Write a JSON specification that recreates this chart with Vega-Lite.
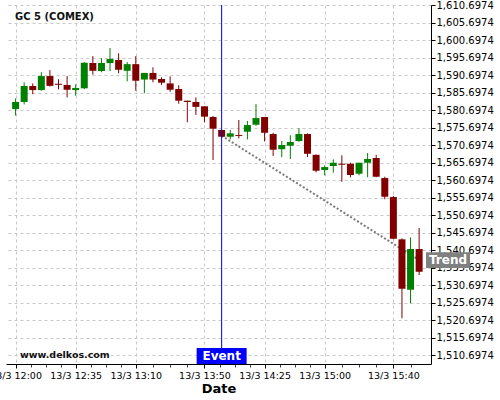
{
  "$schema": "https://vega.github.io/schema/vega-lite/v6.json",
  "width": 425,
  "height": 359,
  "autosize": {"type": "none"},
  "padding": {"left": 6, "top": 5, "right": 69, "bottom": 36},
  "background": "white",
  "config": {
    "view": {"stroke": null},
    "axis": {
      "labelFont": "DejaVu Sans",
      "labelFontSize": 9.5,
      "labelColor": "#000000",
      "domainColor": "#000000",
      "tickColor": "#000000",
      "gridColor": "#c8c8c8",
      "gridDash": [3, 3],
      "gridWidth": 1,
      "tickSize": 4,
      "titleFont": "DejaVu Sans",
      "titleColor": "#000000"
    }
  },
  "datasets": {
    "candles": [
      {"t": "2024-03-13T12:00:00", "open": 1581.0, "high": 1584.0, "low": 1579.1, "close": 1583.0},
      {"t": "2024-03-13T12:05:00", "open": 1583.0, "high": 1588.6, "low": 1582.3, "close": 1587.56},
      {"t": "2024-03-13T12:10:00", "open": 1587.56, "high": 1588.3, "low": 1585.2, "close": 1586.4},
      {"t": "2024-03-13T12:15:00", "open": 1586.4, "high": 1591.5, "low": 1586.2, "close": 1590.4},
      {"t": "2024-03-13T12:20:00", "open": 1590.4, "high": 1592.1, "low": 1587.4, "close": 1587.6},
      {"t": "2024-03-13T12:25:00", "open": 1588.2, "high": 1589.5, "low": 1586.6, "close": 1587.9},
      {"t": "2024-03-13T12:30:00", "open": 1587.84, "high": 1590.4, "low": 1584.3, "close": 1586.5},
      {"t": "2024-03-13T12:35:00", "open": 1586.4, "high": 1588.04, "low": 1584.8, "close": 1587.0},
      {"t": "2024-03-13T12:40:00", "open": 1586.9, "high": 1594.4, "low": 1586.7, "close": 1594.2},
      {"t": "2024-03-13T12:45:00", "open": 1594.13, "high": 1596.1, "low": 1590.8, "close": 1591.9},
      {"t": "2024-03-13T12:50:00", "open": 1591.84, "high": 1595.5, "low": 1591.5, "close": 1594.13},
      {"t": "2024-03-13T12:55:00", "open": 1594.1, "high": 1598.4, "low": 1591.8, "close": 1595.3},
      {"t": "2024-03-13T13:00:00", "open": 1595.0, "high": 1596.9, "low": 1591.2, "close": 1592.2},
      {"t": "2024-03-13T13:05:00", "open": 1591.9, "high": 1594.4, "low": 1588.9, "close": 1593.8},
      {"t": "2024-03-13T13:10:00", "open": 1593.8, "high": 1596.1, "low": 1586.2, "close": 1589.07},
      {"t": "2024-03-13T13:15:00", "open": 1589.4, "high": 1591.3, "low": 1585.5, "close": 1591.3},
      {"t": "2024-03-13T13:20:00", "open": 1591.3, "high": 1592.9, "low": 1588.6, "close": 1589.4},
      {"t": "2024-03-13T13:25:00", "open": 1589.56, "high": 1590.04, "low": 1587.84, "close": 1588.5},
      {"t": "2024-03-13T13:30:00", "open": 1588.3, "high": 1590.3, "low": 1585.9, "close": 1586.5},
      {"t": "2024-03-13T13:35:00", "open": 1586.7, "high": 1587.8, "low": 1582.5, "close": 1583.36},
      {"t": "2024-03-13T13:40:00", "open": 1583.36, "high": 1583.4, "low": 1577.2, "close": 1583.0},
      {"t": "2024-03-13T13:45:00", "open": 1583.0, "high": 1584.3, "low": 1579.3, "close": 1581.6},
      {"t": "2024-03-13T13:50:00", "open": 1581.76, "high": 1581.8, "low": 1577.2, "close": 1578.8},
      {"t": "2024-03-13T13:55:00", "open": 1578.7, "high": 1579.0, "low": 1566.4, "close": 1575.36},
      {"t": "2024-03-13T14:00:00", "open": 1575.0, "high": 1575.0, "low": 1573.0, "close": 1573.07},
      {"t": "2024-03-13T14:05:00", "open": 1573.07, "high": 1575.0, "low": 1572.3, "close": 1574.04},
      {"t": "2024-03-13T14:10:00", "open": 1573.56, "high": 1577.84, "low": 1572.6, "close": 1573.3},
      {"t": "2024-03-13T14:15:00", "open": 1574.5, "high": 1577.56, "low": 1572.3, "close": 1576.4},
      {"t": "2024-03-13T14:20:00", "open": 1576.5, "high": 1582.4, "low": 1576.2, "close": 1578.4},
      {"t": "2024-03-13T14:25:00", "open": 1578.7, "high": 1578.7, "low": 1571.75, "close": 1574.2},
      {"t": "2024-03-13T14:30:00", "open": 1573.84, "high": 1574.2, "low": 1567.6, "close": 1569.36},
      {"t": "2024-03-13T14:35:00", "open": 1569.5, "high": 1571.84, "low": 1567.2, "close": 1570.7},
      {"t": "2024-03-13T14:40:00", "open": 1570.5, "high": 1573.5, "low": 1566.7, "close": 1571.56},
      {"t": "2024-03-13T14:45:00", "open": 1571.84, "high": 1575.5, "low": 1571.6, "close": 1573.84},
      {"t": "2024-03-13T14:50:00", "open": 1573.84, "high": 1574.04, "low": 1567.3, "close": 1568.2},
      {"t": "2024-03-13T14:55:00", "open": 1567.9, "high": 1568.0, "low": 1562.9, "close": 1563.36},
      {"t": "2024-03-13T15:00:00", "open": 1563.56, "high": 1564.9, "low": 1562.04, "close": 1564.4},
      {"t": "2024-03-13T15:05:00", "open": 1564.7, "high": 1566.6, "low": 1562.8, "close": 1565.64},
      {"t": "2024-03-13T15:10:00", "open": 1565.36, "high": 1567.76, "low": 1560.2, "close": 1565.07},
      {"t": "2024-03-13T15:15:00", "open": 1565.36, "high": 1565.64, "low": 1561.47, "close": 1562.13},
      {"t": "2024-03-13T15:20:00", "open": 1562.5, "high": 1565.64, "low": 1562.04, "close": 1565.64},
      {"t": "2024-03-13T15:25:00", "open": 1565.64, "high": 1568.4, "low": 1561.5, "close": 1566.7},
      {"t": "2024-03-13T15:30:00", "open": 1566.99, "high": 1567.9, "low": 1561.5, "close": 1561.64},
      {"t": "2024-03-13T15:35:00", "open": 1561.27, "high": 1561.64, "low": 1555.2, "close": 1555.93},
      {"t": "2024-03-13T15:40:00", "open": 1555.84, "high": 1556.13, "low": 1543.76, "close": 1543.93},
      {"t": "2024-03-13T15:45:00", "open": 1543.76, "high": 1544.04, "low": 1521.2, "close": 1529.64},
      {"t": "2024-03-13T15:50:00", "open": 1529.36, "high": 1544.3, "low": 1525.47, "close": 1540.99},
      {"t": "2024-03-13T15:55:00", "open": 1540.99, "high": 1547.0, "low": 1533.56, "close": 1534.5}
    ],
    "trend": [
      {"t": "2024-03-13T14:00:00", "price": 1573.35},
      {"t": "2024-03-13T15:55:00", "price": 1537.85}
    ],
    "events": [
      {"t": "2024-03-13T14:00:00", "label": "Event"}
    ]
  },
  "layer": [
    {
      "data": {"name": "candles"},
      "mark": {"type": "rule", "opacity": 0},
      "encoding": {
        "x": {
          "field": "t", "type": "temporal",
          "scale": {"domain": [{"year": 2024, "month": 3, "date": 13, "hours": 11, "minutes": 57, "seconds": 20}, {"year": 2024, "month": 3, "date": 13, "hours": 15, "minutes": 59}]},
          "axis": {
            "orient": "bottom",
            "values": [
              {"year": 2024, "month": 3, "date": 13, "hours": 12, "minutes": 8, "seconds": 45},
              {"year": 2024, "month": 3, "date": 13, "hours": 12, "minutes": 17, "seconds": 30},
              {"year": 2024, "month": 3, "date": 13, "hours": 12, "minutes": 26, "seconds": 15},
              {"year": 2024, "month": 3, "date": 13, "hours": 12, "minutes": 43, "seconds": 45},
              {"year": 2024, "month": 3, "date": 13, "hours": 12, "minutes": 52, "seconds": 30},
              {"year": 2024, "month": 3, "date": 13, "hours": 13, "minutes": 1, "seconds": 15},
              {"year": 2024, "month": 3, "date": 13, "hours": 13, "minutes": 20},
              {"year": 2024, "month": 3, "date": 13, "hours": 13, "minutes": 30},
              {"year": 2024, "month": 3, "date": 13, "hours": 13, "minutes": 40},
              {"year": 2024, "month": 3, "date": 13, "hours": 13, "minutes": 58, "seconds": 45},
              {"year": 2024, "month": 3, "date": 13, "hours": 14, "minutes": 7, "seconds": 30},
              {"year": 2024, "month": 3, "date": 13, "hours": 14, "minutes": 16, "seconds": 15},
              {"year": 2024, "month": 3, "date": 13, "hours": 14, "minutes": 33, "seconds": 45},
              {"year": 2024, "month": 3, "date": 13, "hours": 14, "minutes": 42, "seconds": 30},
              {"year": 2024, "month": 3, "date": 13, "hours": 14, "minutes": 51, "seconds": 15},
              {"year": 2024, "month": 3, "date": 13, "hours": 15, "minutes": 10},
              {"year": 2024, "month": 3, "date": 13, "hours": 15, "minutes": 20},
              {"year": 2024, "month": 3, "date": 13, "hours": 15, "minutes": 30},
              {"year": 2024, "month": 3, "date": 13, "hours": 15, "minutes": 50}
            ],
            "labels": false, "grid": false, "domain": false, "title": null, "tickSize": 3, "tickColor": "#444444"
          }
        },
        "y": {"field": "low", "type": "quantitative", "scale": {"domain": [1508.15, 1610.6974], "zero": false, "nice": false}, "axis": null}
      }
    },
    {
      "data": {"name": "candles"},
      "mark": {"type": "rule", "opacity": 0},
      "encoding": {
        "x": {
          "field": "t", "type": "temporal",
          "scale": {"domain": [{"year": 2024, "month": 3, "date": 13, "hours": 11, "minutes": 57, "seconds": 20}, {"year": 2024, "month": 3, "date": 13, "hours": 15, "minutes": 59}]},
          "axis": {
            "orient": "bottom",
            "values": [
              {"year": 2024, "month": 3, "date": 13, "hours": 12, "minutes": 0},
              {"year": 2024, "month": 3, "date": 13, "hours": 12, "minutes": 35},
              {"year": 2024, "month": 3, "date": 13, "hours": 13, "minutes": 10},
              {"year": 2024, "month": 3, "date": 13, "hours": 13, "minutes": 50},
              {"year": 2024, "month": 3, "date": 13, "hours": 14, "minutes": 25},
              {"year": 2024, "month": 3, "date": 13, "hours": 15, "minutes": 0},
              {"year": 2024, "month": 3, "date": 13, "hours": 15, "minutes": 40}
            ],
            "format": "%d/%-m %H:%M",
            "labelFlush": false,
            "labelOverlap": false,
            "labelPadding": 2,
            "grid": true,
            "title": "Date",
            "titleFontSize": 13,
            "titleFontWeight": "bold",
            "titlePadding": 3
          }
        },
        "y": {
          "field": "high", "type": "quantitative",
          "scale": {"domain": [1508.15, 1610.6974], "zero": false, "nice": false},
          "axis": {
            "orient": "right",
            "values": [1510.6974, 1515.6974, 1520.6974, 1525.6974, 1530.6974, 1535.6974, 1540.6974, 1545.6974, 1550.6974, 1555.6974, 1560.6974, 1565.6974, 1570.6974, 1575.6974, 1580.6974, 1585.6974, 1590.6974, 1595.6974, 1600.6974, 1605.6974, 1610.6974],
            "format": ",.4f",
            "grid": true,
            "title": null,
            "labelPadding": 1,
            "labelFontSize": 10,
            "labelOverlap": false,
            "labelFlush": false
          }
        }
      }
    },
    {
      "data": {"name": "trend"},
      "mark": {"type": "line", "color": "#7a7a7a", "strokeWidth": 2, "strokeDash": [2, 2]},
      "encoding": {
        "x": {"field": "t", "type": "temporal", "scale": {"domain": [{"year": 2024, "month": 3, "date": 13, "hours": 11, "minutes": 57, "seconds": 20}, {"year": 2024, "month": 3, "date": 13, "hours": 15, "minutes": 59}]}, "axis": null},
        "y": {"field": "price", "type": "quantitative", "scale": {"domain": [1508.15, 1610.6974], "zero": false, "nice": false}, "axis": null}
      }
    },
    {
      "data": {"name": "candles"},
      "mark": {"type": "rule", "strokeWidth": 1},
      "encoding": {
        "x": {"field": "t", "type": "temporal", "scale": {"domain": [{"year": 2024, "month": 3, "date": 13, "hours": 11, "minutes": 57, "seconds": 20}, {"year": 2024, "month": 3, "date": 13, "hours": 15, "minutes": 59}]}, "axis": null},
        "y": {"field": "low", "type": "quantitative", "scale": {"domain": [1508.15, 1610.6974], "zero": false, "nice": false}, "axis": null},
        "y2": {"field": "high"},
        "color": {"condition": {"test": "datum.close > datum.open", "value": "#008000"}, "value": "#800000"}
      }
    },
    {
      "data": {"name": "candles"},
      "mark": {"type": "bar", "size": 7},
      "encoding": {
        "x": {"field": "t", "type": "temporal", "scale": {"domain": [{"year": 2024, "month": 3, "date": 13, "hours": 11, "minutes": 57, "seconds": 20}, {"year": 2024, "month": 3, "date": 13, "hours": 15, "minutes": 59}]}, "axis": null},
        "y": {"field": "open", "type": "quantitative", "scale": {"domain": [1508.15, 1610.6974], "zero": false, "nice": false}, "axis": null},
        "y2": {"field": "close"},
        "color": {"condition": {"test": "datum.close > datum.open", "value": "#008000"}, "value": "#800000"}
      }
    },
    {
      "data": {"name": "events"},
      "mark": {"type": "rule", "color": "#0000dd", "strokeWidth": 1},
      "encoding": {
        "x": {"field": "t", "type": "temporal", "scale": {"domain": [{"year": 2024, "month": 3, "date": 13, "hours": 11, "minutes": 57, "seconds": 20}, {"year": 2024, "month": 3, "date": 13, "hours": 15, "minutes": 59}]}, "axis": null}
      }
    },
    {
      "data": {"name": "events"},
      "mark": {"type": "bar", "size": 50, "color": "#0000ff"},
      "encoding": {
        "x": {"field": "t", "type": "temporal", "scale": {"domain": [{"year": 2024, "month": 3, "date": 13, "hours": 11, "minutes": 57, "seconds": 20}, {"year": 2024, "month": 3, "date": 13, "hours": 15, "minutes": 59}]}, "axis": null},
        "y": {"datum": 1508.15, "type": "quantitative", "scale": {"domain": [1508.15, 1610.6974], "zero": false, "nice": false}, "axis": null},
        "y2": {"datum": 1512.7}
      }
    },
    {
      "data": {"name": "events"},
      "mark": {"type": "text", "color": "#ffffff", "font": "DejaVu Sans", "fontWeight": "bold", "fontSize": 12, "align": "center", "baseline": "middle"},
      "encoding": {
        "x": {"field": "t", "type": "temporal", "scale": {"domain": [{"year": 2024, "month": 3, "date": 13, "hours": 11, "minutes": 57, "seconds": 20}, {"year": 2024, "month": 3, "date": 13, "hours": 15, "minutes": 59}]}, "axis": null},
        "y": {"datum": 1510.45, "type": "quantitative", "scale": {"domain": [1508.15, 1610.6974], "zero": false, "nice": false}, "axis": null},
        "text": {"field": "label"}
      }
    },
    {
      "data": {"values": [{"label": "Trend"}]},
      "mark": {"type": "bar", "size": 44, "xOffset": 22, "color": "#808080"},
      "encoding": {
        "x": {"datum": {"year": 2024, "month": 3, "date": 13, "hours": 15, "minutes": 59}, "type": "temporal", "scale": {"domain": [{"year": 2024, "month": 3, "date": 13, "hours": 11, "minutes": 57, "seconds": 20}, {"year": 2024, "month": 3, "date": 13, "hours": 15, "minutes": 59}]}, "axis": null},
        "y": {"datum": 1540.1, "type": "quantitative", "scale": {"domain": [1508.15, 1610.6974], "zero": false, "nice": false}, "axis": null},
        "y2": {"datum": 1535.6}
      }
    },
    {
      "data": {"values": [{"label": "Trend"}]},
      "mark": {"type": "text", "color": "#ffffff", "font": "DejaVu Sans", "fontWeight": "bold", "fontSize": 12, "align": "center", "baseline": "middle", "dx": 22},
      "encoding": {
        "x": {"datum": {"year": 2024, "month": 3, "date": 13, "hours": 15, "minutes": 59}, "type": "temporal", "scale": {"domain": [{"year": 2024, "month": 3, "date": 13, "hours": 11, "minutes": 57, "seconds": 20}, {"year": 2024, "month": 3, "date": 13, "hours": 15, "minutes": 59}]}, "axis": null},
        "y": {"datum": 1537.85, "type": "quantitative", "scale": {"domain": [1508.15, 1610.6974], "zero": false, "nice": false}, "axis": null},
        "text": {"field": "label"}
      }
    },
    {
      "data": {"values": [{"label": "GC 5 (COMEX)"}]},
      "mark": {"type": "text", "color": "#111111", "font": "DejaVu Sans", "fontWeight": "bold", "fontSize": 10, "align": "left", "baseline": "alphabetic", "dx": 4},
      "encoding": {
        "x": {"datum": {"year": 2024, "month": 3, "date": 13, "hours": 11, "minutes": 57, "seconds": 20}, "type": "temporal", "scale": {"domain": [{"year": 2024, "month": 3, "date": 13, "hours": 11, "minutes": 57, "seconds": 20}, {"year": 2024, "month": 3, "date": 13, "hours": 15, "minutes": 59}]}, "axis": null},
        "y": {"datum": 1606.55, "type": "quantitative", "scale": {"domain": [1508.15, 1610.6974], "zero": false, "nice": false}, "axis": null},
        "text": {"field": "label"}
      }
    },
    {
      "data": {"values": [{"label": "www.delkos.com"}]},
      "mark": {"type": "text", "color": "#111111", "font": "DejaVu Sans", "fontWeight": "bold", "fontSize": 9.5, "align": "left", "baseline": "alphabetic", "dx": 9},
      "encoding": {
        "x": {"datum": {"year": 2024, "month": 3, "date": 13, "hours": 11, "minutes": 57, "seconds": 20}, "type": "temporal", "scale": {"domain": [{"year": 2024, "month": 3, "date": 13, "hours": 11, "minutes": 57, "seconds": 20}, {"year": 2024, "month": 3, "date": 13, "hours": 15, "minutes": 59}]}, "axis": null},
        "y": {"datum": 1509.98, "type": "quantitative", "scale": {"domain": [1508.15, 1610.6974], "zero": false, "nice": false}, "axis": null},
        "text": {"field": "label"}
      }
    }
  ],
  "resolve": {"axis": {"x": "independent", "y": "independent"}}
}
